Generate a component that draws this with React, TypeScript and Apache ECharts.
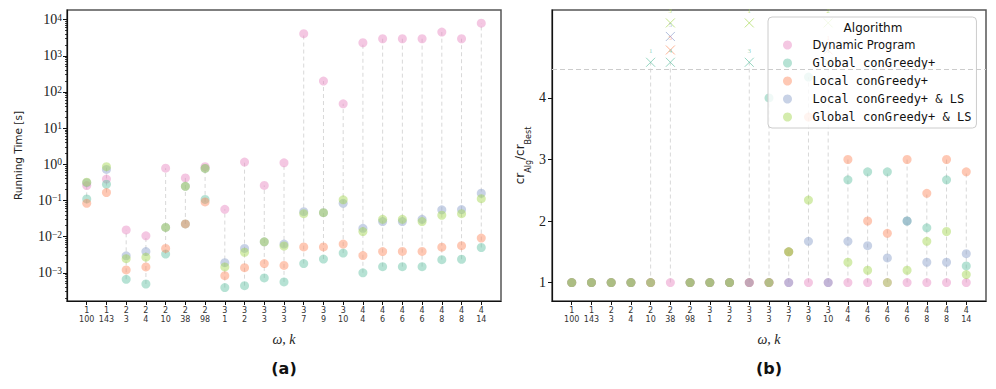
import React, { useEffect, useRef } from 'react';
import * as echarts from 'echarts';

// ---------- data ----------
const omega = [1, 1, 2, 2, 2, 2, 2, 3, 3, 3, 3, 3, 3, 3, 4, 4, 4, 4, 4, 4, 4];
const kVals = [100, 143, 3, 4, 10, 38, 98, 1, 2, 3, 3, 7, 9, 10, 4, 6, 6, 6, 8, 8, 14];

const algorithms = [
  'Dynamic Program',
  'Global conGreedy+',
  'Local conGreedy+',
  'Local conGreedy+ & LS',
  'Global conGreedy+ & LS',
];

// running time [s]
const timeDP = [0.257, 0.39, 0.0153, 0.0105, 0.78, 0.42, 0.86, 0.057, 1.15, 0.26, 1.1, 4070, 200, 47, 2290, 2950, 2950, 2950, 4520, 2950, 7940];
const timeG = [0.11, 0.28, 0.00066, 0.00049, 0.0033, 0.0224, 0.107, 0.00039, 0.00044, 0.00072, 0.00056, 0.0018, 0.0024, 0.0035, 0.001, 0.00148, 0.00148, 0.00148, 0.0023, 0.00237, 0.005];
const timeL = [0.083, 0.165, 0.0012, 0.00145, 0.0047, 0.0224, 0.091, 0.00083, 0.00138, 0.0018, 0.0016, 0.0052, 0.0052, 0.0062, 0.003, 0.00385, 0.0039, 0.0039, 0.0051, 0.0056, 0.0091];
const timeLLS = [0.31, 0.72, 0.00295, 0.00385, 0.018, 0.245, 0.77, 0.0019, 0.0047, 0.0072, 0.0062, 0.049, 0.046, 0.083, 0.017, 0.026, 0.026, 0.03, 0.055, 0.056, 0.158];
const timeGLS = [0.32, 0.86, 0.00245, 0.0027, 0.018, 0.245, 0.77, 0.00145, 0.0037, 0.0072, 0.0055, 0.043, 0.046, 0.104, 0.0138, 0.03, 0.03, 0.026, 0.039, 0.043, 0.112];

// competitive ratio cr_Alg / cr_Best (null = above the cap, shown as a cross)
const ratioDP = [1, 1, 1, 1, 1, 1, 1, 1, 1, 1, 1, 1, 1, 1, 1, 1, 1, 1, 1, 1, 1];
const ratioG = [1, 1, 1, 1, null, null, 1, 1, 1, null, 4.0, 1.5, 4.34, null, 2.67, 2.8, 2.8, 2.0, 1.89, 2.67, 1.27];
const ratioL = [1, 1, 1, 1, 1, null, 1, 1, 1, 1, 1, 1.5, 3.69, null, 3.0, 2.0, 1.8, 3.0, 2.45, 3.0, 2.8];
const ratioLLS = [1, 1, 1, 1, 1, null, 1, 1, 1, 1, 1, 1, 1.67, 1, 1.67, 1.6, 1.4, 2.0, 1.33, 1.33, 1.47];
const ratioGLS = [1, 1, 1, 1, 1, null, 1, 1, 1, null, 1, 1.5, 2.34, null, 1.33, 1.2, 1, 1.2, 1.67, 1.83, 1.13];

// labels printed above the crosses for values beyond the cap
const overDP: (string | null)[] = Array(21).fill(null);
const overG: (string | null)[] = [null, null, null, null, '1', '4', null, null, null, '3', null, null, null, '1', null, null, null, null, null, null, null];
const overL: (string | null)[] = [null, null, null, null, null, '5', null, null, null, null, null, null, null, '1', null, null, null, null, null, null, null];
const overLLS: (string | null)[] = [null, null, null, null, null, '5', null, null, null, null, null, null, null, null, null, null, null, null, null, null, null];
const overGLS: (string | null)[] = [null, null, null, null, null, '3', null, null, null, '1', null, null, null, '2', null, null, null, null, null, null, null];

const capValue = 4.46;
const majorExps = [-3, -2, -1, 0, 1, 2, 3, 4];
const ratioTicks = [1, 2, 3, 4];

// ---------- styling ----------
const colors = ['#e78ac3', '#66c2a5', '#fc8d62', '#8da0cb', '#a6d854'];
const crossY = [null, 4.58, 4.78, 5.0, 5.22];

function rgba(hex: string, a: number) {
  const n = parseInt(hex.slice(1), 16);
  return `rgba(${(n >> 16) & 255},${(n >> 8) & 255},${n & 255},${a})`;
}

const times = [timeDP, timeG, timeL, timeLLS, timeGLS];
const ratios = [ratioDP, ratioG, ratioL, ratioLLS, ratioGLS];
const overs = [overDP, overG, overL, overLLS, overGLS];
const idx = omega.map((_, i) => i);

const minorTicks: number[] = [];
for (let e = -4; e <= 4; e++) {
  for (let k = 2; k <= 9; k++) {
    const v = Math.log10(k) + e;
    if (v > -3.78 && v < 4.265) minorTicks.push(v);
  }
}

const SERIF = '"Liberation Serif", "DejaVu Serif", serif';
const SANS = '"DejaVu Sans", sans-serif';
const MONO = '"DejaVu Sans Mono", "Liberation Mono", monospace';

function xAxisFor(gridIndex: number) {
  return {
    type: 'value',
    gridIndex,
    min: -1,
    max: 21,
    axisLine: { show: true, onZero: false, lineStyle: { color: '#111', width: 1.2 } },
    axisTick: { show: true, customValues: idx, length: 4, lineStyle: { color: '#111', width: 1 } },
    axisLabel: {
      customValues: idx,
      formatter: (v: number) => `${omega[v]}\n${kVals[v]}`,
      fontFamily: SANS,
      fontSize: 8,
      lineHeight: 9,
      color: '#333',
      margin: 5,
    },
    splitLine: { show: false },
    name: 'ω, k',
    nameLocation: 'middle',
    nameGap: 31,
    nameTextStyle: { fontFamily: SERIF, fontStyle: 'italic', fontSize: 14, color: '#222' },
  };
}

function rangeSeries(xi: number, yi: number, data: number[][]) {
  return {
    type: 'custom',
    xAxisIndex: xi,
    yAxisIndex: yi,
    z: 1,
    silent: true,
    data,
    renderItem: (params: any, api: any) => {
      const p1 = api.coord([api.value(0), api.value(1)]);
      const p2 = api.coord([api.value(0), api.value(2)]);
      return {
        type: 'line',
        shape: { x1: p1[0], y1: p1[1], x2: p2[0], y2: p2[1] },
        style: { stroke: '#d8d8d8', lineWidth: 1, lineDash: [4, 3] },
      };
    },
  };
}

function buildOption() {
  const series: any[] = [];

  const leftRanges = idx.map((i) => {
    const vals = times.map((t) => Math.log10(t[i]));
    return [i, Math.min(...vals), Math.max(...vals)];
  });
  series.push(rangeSeries(0, 0, leftRanges));

  const rightRanges = idx.map((i) => {
    const vals: number[] = [];
    ratios.forEach((r, j) => {
      if (r[i] != null) vals.push(r[i] as number);
      else if (overs[j][i] != null) vals.push(crossY[1] as number);
    });
    return [i, Math.min(...vals), Math.max(...vals)];
  });
  series.push(rangeSeries(1, 2, rightRanges));

  algorithms.forEach((name, j) => {
    series.push({
      type: 'scatter',
      name,
      xAxisIndex: 0,
      yAxisIndex: 0,
      symbol: 'circle',
      symbolSize: 9,
      z: 2,
      itemStyle: { color: rgba(colors[j], 0.6) },
      data: idx.map((i) => [i, Math.log10(times[j][i])]),
    });
  });

  algorithms.forEach((name, j) => {
    const s: any = {
      type: 'scatter',
      name,
      xAxisIndex: 1,
      yAxisIndex: 2,
      symbol: 'circle',
      symbolSize: 9,
      z: 2,
      itemStyle: { color: rgba(colors[j], 0.6) },
      data: idx.filter((i) => ratios[j][i] != null).map((i) => [i, ratios[j][i]]),
    };
    if (j === 0) {
      s.markLine = {
        silent: true,
        symbol: 'none',
        label: { show: false },
        lineStyle: { color: '#cccccc', type: [5, 3], width: 1.2 },
        data: [{ yAxis: capValue }],
      };
    }
    series.push(s);
  });

  algorithms.forEach((name, j) => {
    if (j === 0) return;
    const data = idx.filter((i) => overs[j][i] != null).map((i) => [i, crossY[j], overs[j][i]]);
    series.push({
      type: 'scatter',
      name: 'over ' + name,
      xAxisIndex: 1,
      yAxisIndex: 2,
      symbol: 'path://M0,0L10,10M10,0L0,10',
      symbolSize: 9,
      z: 3,
      itemStyle: { color: 'none', borderColor: rgba(colors[j], 0.85), borderWidth: 1 },
      label: {
        show: true,
        position: 'top',
        distance: 1,
        formatter: (p: any) => p.value[2],
        fontFamily: SERIF,
        fontSize: 7,
        color: rgba(colors[j], 0.9),
      },
      data,
    });
  });

  return {
    animation: false,
    backgroundColor: '#fff',
    grid: [
      { left: 67, top: 10, width: 434, height: 291, show: true, borderColor: '#555', borderWidth: 1.5, backgroundColor: 'transparent' },
      { left: 552, top: 10, width: 434, height: 291, show: true, borderColor: '#555', borderWidth: 1.5, backgroundColor: 'transparent' },
    ],
    xAxis: [xAxisFor(0), xAxisFor(1)],
    yAxis: [
      {
        type: 'value',
        gridIndex: 0,
        position: 'left',
        min: -3.78,
        max: 4.265,
        axisLine: { show: true, onZero: false, lineStyle: { color: '#111', width: 1.2 } },
        axisTick: { show: true, customValues: majorExps, length: 4, lineStyle: { color: '#111', width: 1 } },
        axisLabel: {
          customValues: majorExps,
          margin: 5,
          formatter: (v: number) => `{b|10}{e|${v < 0 ? '−' + Math.abs(v) : v}}`,
          rich: {
            b: { fontFamily: SERIF, fontSize: 14, color: '#222', lineHeight: 14 },
            e: { fontFamily: SERIF, fontSize: 9.5, color: '#222', lineHeight: 9, verticalAlign: 'top' },
          },
        },
        splitLine: { show: false },
        name: 'Running Time [s]',
        nameLocation: 'middle',
        nameGap: 44,
        nameRotate: 90,
        nameTextStyle: { fontFamily: SANS, fontSize: 10.5, color: '#222' },
      },
      {
        type: 'value',
        gridIndex: 0,
        position: 'left',
        offset: 0,
        min: -3.78,
        max: 4.265,
        axisLine: { show: false, onZero: false },
        axisTick: { show: true, customValues: minorTicks, length: 2, lineStyle: { color: '#111', width: 0.8 } },
        axisLabel: { show: false },
        splitLine: { show: false },
      },
      {
        type: 'value',
        gridIndex: 1,
        position: 'left',
        min: 0.7,
        max: 5.43,
        axisLine: { show: true, onZero: false, lineStyle: { color: '#111', width: 1.2 } },
        axisTick: { show: true, customValues: ratioTicks, length: 4, lineStyle: { color: '#111', width: 1 } },
        axisLabel: { customValues: ratioTicks, margin: 6, fontFamily: SERIF, fontSize: 14, color: '#222' },
        splitLine: { show: false },
        name: '{n|cr}{s|Alg}{n|/cr}{s|Best}',
        nameLocation: 'middle',
        nameGap: 20,
        nameRotate: 90,
        nameTextStyle: {
          rich: {
            n: { fontFamily: SANS, fontSize: 12, color: '#222', lineHeight: 14, verticalAlign: 'top' },
            s: { fontFamily: SANS, fontSize: 8, color: '#222', lineHeight: 18, verticalAlign: 'bottom' },
          },
        },
      },
    ],
    legend: {
      data: algorithms,
      orient: 'vertical',
      left: 768,
      top: 17,
      itemWidth: 40,
      itemHeight: 9,
      itemGap: 6,
      icon: 'circle',
      padding: [22, 5, 5, 15],
      backgroundColor: 'rgba(255,255,255,0.8)',
      borderColor: '#cccccc',
      borderWidth: 1,
      borderRadius: 4,
      selectedMode: false,
      formatter: (name: string) => (name === 'Dynamic Program' ? `{s|${name}}` : `{m|${name}}`),
      textStyle: {
        rich: {
          s: { fontFamily: SANS, fontSize: 11.5, color: '#111', lineHeight: 14 },
          m: { fontFamily: MONO, fontSize: 12, color: '#111', lineHeight: 14 },
        },
      },
    },
    graphic: [
      {
        type: 'text',
        z: 100,
        x: 873,
        y: 28,
        style: { text: 'Algorithm', fontFamily: SANS, fontSize: 12, fill: '#111', textAlign: 'center', textVerticalAlign: 'middle' },
      },
      {
        type: 'text',
        x: 284,
        y: 368,
        style: { text: '(a)', fontFamily: SANS, fontSize: 16, fontWeight: 'bold', fill: '#111', textAlign: 'center', textVerticalAlign: 'middle' },
      },
      {
        type: 'text',
        x: 769,
        y: 368,
        style: { text: '(b)', fontFamily: SANS, fontSize: 16, fontWeight: 'bold', fill: '#111', textAlign: 'center', textVerticalAlign: 'middle' },
      },
    ],
    series,
  };
}

export default function App() {
  const ref = useRef<HTMLDivElement>(null);
  useEffect(() => {
    if (!ref.current) return;
    const chart = echarts.init(ref.current, undefined, { renderer: 'svg' });
    chart.setOption(buildOption() as any);
    return () => chart.dispose();
  }, []);
  return (
    <div
      ref={ref}
      style={{ position: 'absolute', left: 0, top: 0, width: 996, height: 389, background: '#fff' }}
    />
  );
}
